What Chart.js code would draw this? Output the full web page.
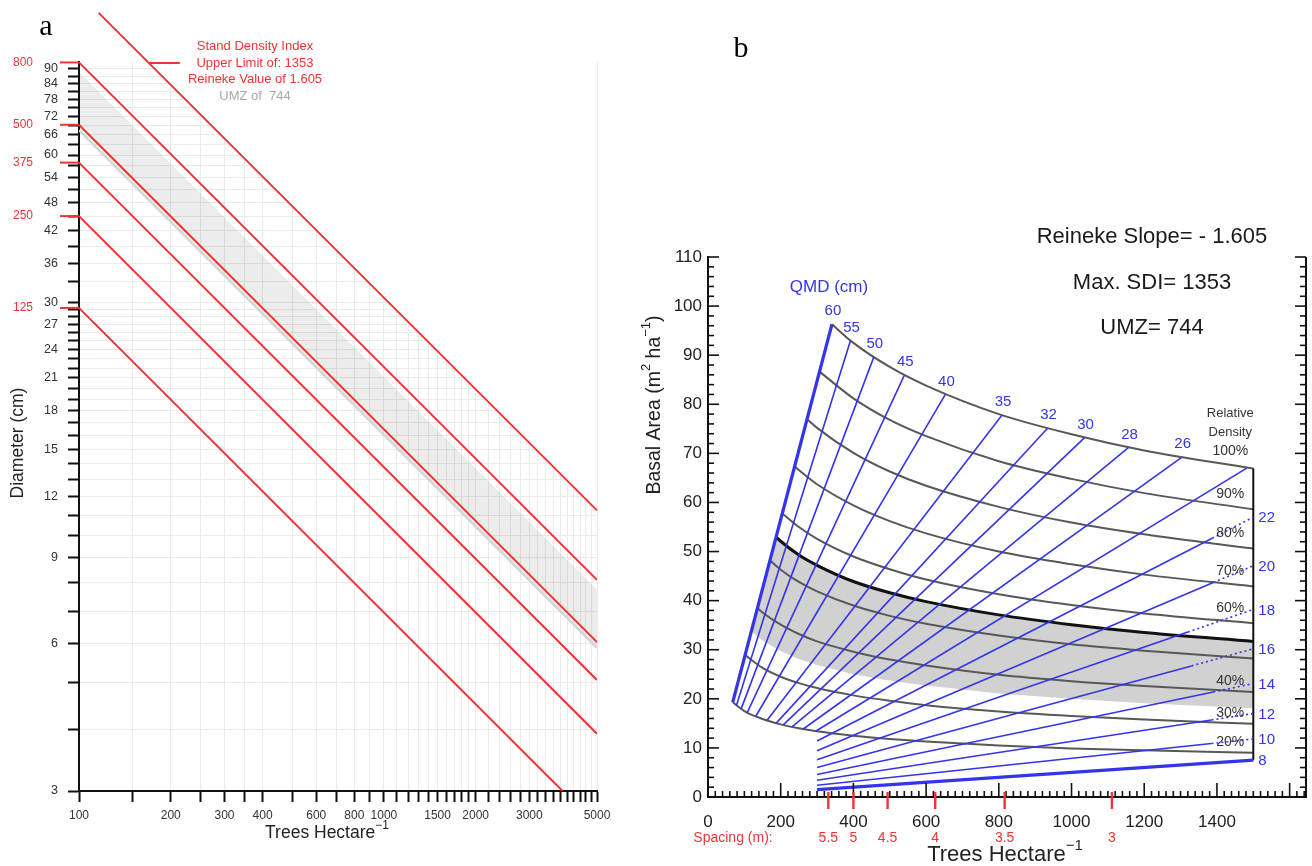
<!DOCTYPE html>
<html>
<head>
<meta charset="utf-8">
<title>Density management diagrams</title>
<script src="https://cdn.jsdelivr.net/npm/chart.js@4.4.1/dist/chart.umd.min.js"></script>
<style>
  html, body { margin: 0; padding: 0; background: #fff; }
  #wrap { position: relative; width: 1312px; height: 866px; overflow: hidden; }
  #chartA { position: absolute; left: 0; top: 0; }
  #chartB { position: absolute; left: 620px; top: 0; }
</style>
</head>
<body>
<div id="wrap">
  <canvas id="chartA" width="620" height="866"></canvas>
  <canvas id="chartB" width="692" height="866"></canvas>
</div>
<script>
// ---------- panel a: log-log diameter vs trees per hectare ----------
const sdiValues = [1353, 800, 500, 375, 250, 125];
const sdiStartN = [116, 100, 100, 100, 100, 100];
const sdiStartD = [117.2, 92.8, 69.2, 57.9, 45.0, 29.2];
const sdiEndN = [5000, 5000, 5000, 5000, 5000, 3854];
const sdiEndD = [11.25, 8.11, 6.05, 5.06, 3.93, 3];

const umzN = [100, 5000];
const umzUpperD = [88.7, 7.75];
const umzLowerD = [67.4, 5.89];

const diamTicks = [3, 4, 5, 6, 7, 8, 9, 10, 11, 12, 13, 14, 15, 16, 17, 18, 19, 20, 21, 22, 23, 24, 25, 26, 27, 28, 29, 30,
  33, 36, 39, 42, 45, 48, 51, 54, 57, 60, 63, 66, 69, 72, 75, 78, 81, 84, 87, 90];
const diamLabels = [3, 6, 9, 12, 15, 18, 21, 24, 27, 30, 36, 42, 48, 54, 60, 66, 72, 78, 84, 90];
const treeTicksA = [100, 150, 200, 250, 300, 350, 400, 500, 600, 700, 800, 900, 1000, 1100, 1200, 1300, 1400, 1500,
  1600, 1700, 1800, 1900, 2000, 2200, 2400, 2600, 2800, 3000, 3200, 3400, 3600, 3800, 4000, 4200, 4400, 4600, 4800, 5000];
const treeLabelsA = [100, 200, 300, 400, 600, 800, 1000, 1500, 2000, 3000, 5000];

// ---------- panel b: basal area vs trees per hectare ----------
const rdLevels = [100, 90, 80, 70, 60, 55, 50, 40, 30, 20];
const rdStartN = [341, 306, 272, 238, 204, 187, 170, 136, 102, 68];
const rdStartBA = [96.3, 86.7, 77.0, 67.4, 57.8, 53.0, 48.2, 38.5, 28.9, 19.3];
const rdGridN = [100, 150, 200, 250, 300, 400, 500, 600, 800, 1000, 1200, 1500];
const rdBA = [
  [null, null, null, null, null, 92.5, 87.6, 83.8, 78.0, 73.9, 70.6, 66.9],
  [null, null, null, null, null, 81.2, 76.8, 73.5, 68.4, 64.8, 61.9, 58.6],
  [null, null, null, null, 75.2, 70.1, 66.3, 63.4, 59.1, 55.9, 53.5, 50.6],
  [null, null, null, 66.6, 63.7, 59.4, 56.2, 53.7, 50.0, 47.4, 45.3, 42.9],
  [null, null, null, 55.0, 52.6, 49.0, 46.4, 44.3, 41.3, 39.1, 37.4, 35.4],
  [null, null, 52.1, 49.3, 47.2, 43.9, 41.6, 39.8, 37.1, 35.1, 33.5, 31.7],
  [null, null, 46.3, 43.8, 41.9, 39.0, 36.9, 35.3, 32.9, 31.1, 29.8, 28.2],
  [null, 37.6, 35.1, 33.2, 31.7, 29.6, 28.0, 26.8, 24.9, 23.6, 22.6, 21.4],
  [null, 26.3, 24.5, 23.2, 22.2, 20.7, 19.6, 18.7, 17.4, 16.5, 15.8, 14.9],
  [17.5, 15.9, 14.8, 14.0, 13.4, 12.5, 11.8, 11.3, 10.5, 9.9, 9.5, 9.0]
];
const rdTextLevels = [90, 80, 70, 60, 40, 30, 20];

// lower edge of the shaded zone (upper edge is the 55% curve)
const bandLowStartN = 119;
const bandLowStartBA = 33.7;
const bandLowBA = [null, 31.9, 29.7, 28.1, 26.9, 25.0, 23.7, 22.7, 21.1, 20.0, 19.1, 18.1];

const qmdValues = [60, 55, 50, 45, 40, 35, 32, 30, 28, 26, 24, 22, 20, 18, 16, 14, 12, 10, 8];
const qmdStartN = [68, 78, 91, 108, 131, 162, 187, 207, 231, 261, 296, 300, 300, 300, 300, 300, 300, 300, 300];
const qmdStartBA = [19.3, 18.6, 17.9, 17.2, 16.4, 15.6, 15.0, 14.7, 14.3, 13.8, 13.4, 11.4, 9.4, 7.6, 6.0, 4.6, 3.4, 2.4, 1.5];
const qmdEndN = [341, 392, 456, 540, 653, 809, 934, 1036, 1157, 1303, 1482, 1500, 1500, 1500, 1500, 1500, 1500, 1500, 1500];
const qmdEndBA = [96.3, 93.0, 89.6, 85.9, 82.0, 77.8, 75.1, 73.2, 71.2, 69.2, 67.0, 57.0, 47.1, 38.2, 30.2, 23.1, 17.0, 11.8, 7.5];
const qmdDotN = [null, null, null, null, null, null, null, null, null, null, null, 1387, 1390, 1320, 1330, 1390, 1385, 1385, null];
const qmdDotBA = [null, null, null, null, null, null, null, null, null, null, null, 52.7, 43.7, 33.6, 26.7, 21.4, 15.7, 10.9, null];

const baTicks = [0, 10, 20, 30, 40, 50, 60, 70, 80, 90, 100, 110];
const treeTicksB = [0, 200, 400, 600, 800, 1000, 1200, 1400];
const spacingLabels = ['5.5', '5', '4.5', '4', '3.5', '3'];
const spacingTrees = [331, 400, 494, 625, 816, 1111];

const FONT = '"Liberation Sans", Arial, Helvetica, sans-serif';
const RED = '#f03434';
const BLUE = '#3434e8';

// text with superscript parts, centred on (x, y)
function rich(ctx, parts, x, y, size, color, vertical) {
  ctx.save();
  ctx.translate(x, y);
  if (vertical) ctx.rotate(-Math.PI / 2);
  const big = size + 'px ' + FONT;
  const small = Math.round(size * 0.66) + 'px ' + FONT;
  let total = 0;
  parts.forEach(([t, sup]) => { ctx.font = sup ? small : big; total += ctx.measureText(t).width; });
  let cx = -total / 2;
  ctx.fillStyle = color;
  ctx.textAlign = 'left';
  ctx.textBaseline = 'middle';
  parts.forEach(([t, sup]) => {
    ctx.font = sup ? small : big;
    ctx.fillText(t, cx, sup ? -size * 0.42 : 0);
    cx += ctx.measureText(t).width;
  });
  ctx.restore();
}

function seg(ctx, x1, y1, x2, y2) {
  ctx.beginPath();
  ctx.moveTo(x1, y1);
  ctx.lineTo(x2, y2);
  ctx.stroke();
}

// ---------- chart a ----------
const sdiLines = sdiValues.map((v, i) => ({
  data: [{ x: sdiStartN[i], y: sdiStartD[i] }, { x: sdiEndN[i], y: sdiEndD[i] }],
  showLine: true, pointRadius: 0, borderColor: RED, borderWidth: 2, order: 1,
  clip: i === 0 ? false : undefined
}));

const datasetsA = [
  // white above the limit line hides the grid there
  { data: sdiLines[0].data, showLine: true, pointRadius: 0, borderWidth: 0, fill: 'end', backgroundColor: '#fff', order: 10 },
  { data: umzN.map((n, i) => ({ x: n, y: umzUpperD[i] })), showLine: true, pointRadius: 0, borderWidth: 0,
    fill: '+1', backgroundColor: 'rgba(0,0,0,0.075)', order: 9 },
  { data: umzN.map((n, i) => ({ x: n, y: umzLowerD[i] })), showLine: true, pointRadius: 0,
    borderColor: '#d6d6d6', borderWidth: 2.5, order: 8 },
  ...sdiLines
];

const panelA = {
  id: 'panelA',
  afterDatasetsDraw(chart) {
    const { ctx, scales: { x, y } } = chart;
    ctx.save();
    ctx.lineWidth = 2;
    ctx.strokeStyle = RED;
    ctx.fillStyle = RED;
    ctx.font = '12px ' + FONT;
    ctx.textAlign = 'right';
    ctx.textBaseline = 'middle';
    for (let i = 1; i < sdiValues.length; i++) {
      const py = y.getPixelForValue(sdiStartD[i]);
      seg(ctx, x.left - 19, py, x.left, py);
      ctx.fillText(String(sdiValues[i]), 33, py);
    }
    // leader from the limit line to its note
    const ax = x.getPixelForValue(sdiStartN[0]), ay = y.getPixelForValue(sdiStartD[0]);
    const bx = x.getPixelForValue(sdiEndN[0]), by = y.getPixelForValue(sdiEndD[0]);
    const ly = 63, lx = ax + (ly - ay) / (by - ay) * (bx - ax);
    seg(ctx, lx, ly, lx + 31, ly);

    ctx.textAlign = 'center';
    ctx.font = '13px ' + FONT;
    ctx.fillText('Stand Density Index', 255, 46);
    ctx.fillText('Upper Limit of: 1353', 255, 63);
    ctx.fillText('Reineke Value of 1.605', 255, 79);
    ctx.fillStyle = '#a9a9a9';
    ctx.fillText('UMZ of  744', 255, 96);

    ctx.fillStyle = '#000';
    ctx.textBaseline = 'alphabetic';
    ctx.font = '30px "Liberation Serif", "Times New Roman", serif';
    ctx.fillText('a', 46, 35);

    rich(ctx, [['Trees Hectare', false], ['\u22121', true]], 327, 833, 17.5, '#222', false);
    rich(ctx, [['Diameter (cm)', false]], 18, 443, 17.5, '#222', true);
    ctx.restore();
  }
};

new Chart(document.getElementById('chartA'), {
  type: 'scatter',
  data: { datasets: datasetsA },
  options: {
    responsive: false, animation: false, devicePixelRatio: 1, events: [],
    layout: { padding: { left: 0, top: 62, right: 23, bottom: 0 } },
    plugins: { legend: { display: false }, tooltip: { enabled: false } },
    scales: {
      x: {
        type: 'logarithmic', min: 100, max: 5000,
        afterBuildTicks: s => { s.ticks = treeTicksA.map(v => ({ value: v })); },
        afterFit: s => { s.height = 75; },
        ticks: { autoSkip: false, maxRotation: 0, padding: 6, color: '#333', font: { size: 12, family: FONT },
          callback: v => treeLabelsA.includes(v) ? String(v) : '' },
        grid: { color: '#ebebeb', lineWidth: 1, tickColor: '#111', tickLength: 11, tickWidth: 2 },
        border: { color: '#111', width: 2 }
      },
      y: {
        type: 'logarithmic', min: 3, max: 93,
        afterBuildTicks: s => { s.ticks = diamTicks.map(v => ({ value: v })); },
        afterFit: s => { s.width = 79; },
        ticks: { autoSkip: false, padding: 10, color: '#333', font: { size: 12.5, family: FONT },
          callback: v => diamLabels.includes(v) ? String(v) : '' },
        grid: { color: '#ebebeb', lineWidth: 1, tickColor: '#111', tickLength: 11, tickWidth: 2 },
        border: { color: '#111', width: 2 }
      }
    }
  },
  plugins: [panelA]
});

// ---------- chart b ----------
function curvePts(startN, startBA, row) {
  const pts = [{ x: startN, y: startBA }];
  rdGridN.forEach((n, i) => { if (row[i] !== null) pts.push({ x: n, y: row[i] }); });
  return pts;
}

const i55 = rdLevels.indexOf(55);
const bandPts = curvePts(rdStartN[i55], rdStartBA[i55], rdBA[i55])
  .concat(curvePts(bandLowStartN, bandLowStartBA, bandLowBA).reverse());

const lastN = rdGridN[rdGridN.length - 1];
const datasetsB = [
  { data: bandPts, showLine: true, pointRadius: 0, borderWidth: 0, backgroundColor: '#d1d1d1', fill: 'shape', order: 6 },
  ...rdLevels.map((lvl, i) => ({
    data: curvePts(rdStartN[i], rdStartBA[i], rdBA[i]),
    showLine: true, pointRadius: 0, cubicInterpolationMode: 'monotone',
    borderColor: lvl === 55 ? '#111' : '#585858', borderWidth: lvl === 55 ? 3 : 2, order: 4
  })),
  { data: [{ x: lastN, y: qmdEndBA[qmdEndBA.length - 1] }, { x: lastN, y: rdBA[0][rdGridN.length - 1] }],
    showLine: true, pointRadius: 0, borderColor: '#111', borderWidth: 2, order: 3 },
  ...qmdValues.map((d, i) => {
    const pts = [{ x: qmdStartN[i], y: qmdStartBA[i] }];
    if (qmdDotN[i] !== null) pts.push({ x: qmdDotN[i], y: qmdDotBA[i] });
    pts.push({ x: qmdEndN[i], y: qmdEndBA[i] });
    const bold = d === 60 || d === 8;
    return {
      data: pts, showLine: true, pointRadius: 0, borderColor: BLUE, borderWidth: bold ? 3.2 : 1.6, order: 1,
      segment: { borderDash: c => (qmdDotN[i] !== null && c.p0DataIndex === 1) ? [2, 3] : undefined }
    };
  })
];

const panelB = {
  id: 'panelB',
  afterDatasetsDraw(chart) {
    const { ctx, chartArea: area, scales: { x, y } } = chart;
    ctx.save();
    ctx.strokeStyle = '#111';

    // inward ticks, left and right; right frame line
    ctx.lineWidth = 1.6;
    for (let v = 0; v <= y.max; v += 2) {
      const py = y.getPixelForValue(v);
      const len = v % 10 === 0 ? 11 : 6;
      seg(ctx, area.left, py, area.left + len, py);
      seg(ctx, area.right, py, area.right - len, py);
    }
    for (let v = 0; v <= x.max; v += 20) {
      const px = x.getPixelForValue(v);
      seg(ctx, px, area.bottom, px, area.bottom - (v % 200 === 0 ? 14 : 6));
    }
    ctx.lineWidth = 2;
    seg(ctx, area.right, area.top, area.right, area.bottom);

    // spacing marks
    ctx.strokeStyle = RED;
    ctx.fillStyle = RED;
    ctx.lineWidth = 2.4;
    ctx.textAlign = 'center';
    ctx.textBaseline = 'middle';
    ctx.font = '14px ' + FONT;
    spacingTrees.forEach((n, i) => {
      const px = x.getPixelForValue(n);
      seg(ctx, px, area.bottom - 5, px, area.bottom + 12);
      ctx.fillText(spacingLabels[i], px, 838);
    });
    ctx.fillText('Spacing (m):', 113, 838);

    // QMD labels
    ctx.fillStyle = BLUE;
    ctx.font = '15px ' + FONT;
    qmdValues.forEach((d, i) => {
      const px = x.getPixelForValue(qmdEndN[i]);
      const py = y.getPixelForValue(qmdEndBA[i]);
      if (d >= 26) {
        ctx.textAlign = 'center';
        ctx.fillText(String(d), px + 1, py - 13);
      } else if (qmdEndN[i] === lastN) {
        ctx.textAlign = 'left';
        ctx.fillText(String(d), px + 5, py + 1);
      }
    });
    ctx.textAlign = 'center';
    ctx.font = '17px ' + FONT;
    ctx.fillText('QMD (cm)', 209, 287);

    // relative density labels
    ctx.fillStyle = '#333';
    ctx.font = '14px ' + FONT;
    const rx = x.getPixelForValue(lastN) - 23;
    rdTextLevels.forEach(lvl => {
      const i = rdLevels.indexOf(lvl);
      const py = y.getPixelForValue(rdBA[i][rdGridN.length - 1]);
      ctx.fillText(lvl + '%', rx, py - (lvl >= 60 ? 15 : 11));
    });
    const topY = y.getPixelForValue(rdBA[0][rdGridN.length - 1]);
    ctx.font = '13px ' + FONT;
    ctx.fillText('Relative', rx, topY - 55);
    ctx.fillText('Density', rx, topY - 36);
    ctx.font = '14px ' + FONT;
    ctx.fillText('100%', rx, topY - 17);

    // header
    ctx.fillStyle = '#1a1a1a';
    ctx.font = '22px ' + FONT;
    ctx.fillText('Reineke Slope= - 1.605', 532, 237);
    ctx.fillText('Max. SDI= 1353', 532, 283);
    ctx.fillText('UMZ= 744', 532, 328);

    ctx.fillStyle = '#000';
    ctx.textBaseline = 'alphabetic';
    ctx.font = '30px "Liberation Serif", "Times New Roman", serif';
    ctx.fillText('b', 121, 57);

    rich(ctx, [['Trees Hectare', false], ['\u22121', true]], 385, 855, 22, '#222', false);
    rich(ctx, [['Basal Area (m', false], ['2', true], [' ha', false], ['\u22121', true], [')', false]], 35, 405, 19.5, '#222', true);
    ctx.restore();
  }
};

new Chart(document.getElementById('chartB'), {
  type: 'scatter',
  data: { datasets: datasetsB },
  options: {
    responsive: false, animation: false, devicePixelRatio: 1, events: [],
    layout: { padding: { left: 0, top: 257, right: 6, bottom: 0 } },
    plugins: { legend: { display: false }, tooltip: { enabled: false } },
    scales: {
      x: {
        type: 'linear', min: 0, max: 1645,
        afterBuildTicks: s => { s.ticks = treeTicksB.map(v => ({ value: v })); },
        afterFit: s => { s.height = 69; },
        ticks: { autoSkip: false, maxRotation: 0, padding: 15, color: '#222', font: { size: 17, family: FONT },
          callback: v => String(v) },
        grid: { display: false, drawTicks: false },
        border: { color: '#111', width: 2 }
      },
      y: {
        type: 'linear', min: 0, max: 110,
        afterBuildTicks: s => { s.ticks = baTicks.map(v => ({ value: v })); },
        afterFit: s => { s.width = 88; },
        ticks: { autoSkip: false, padding: 6, color: '#222', font: { size: 17, family: FONT },
          callback: v => String(v) },
        grid: { display: false, drawTicks: false },
        border: { color: '#111', width: 2 }
      }
    }
  },
  plugins: [panelB]
});
</script>
</body>
</html>
